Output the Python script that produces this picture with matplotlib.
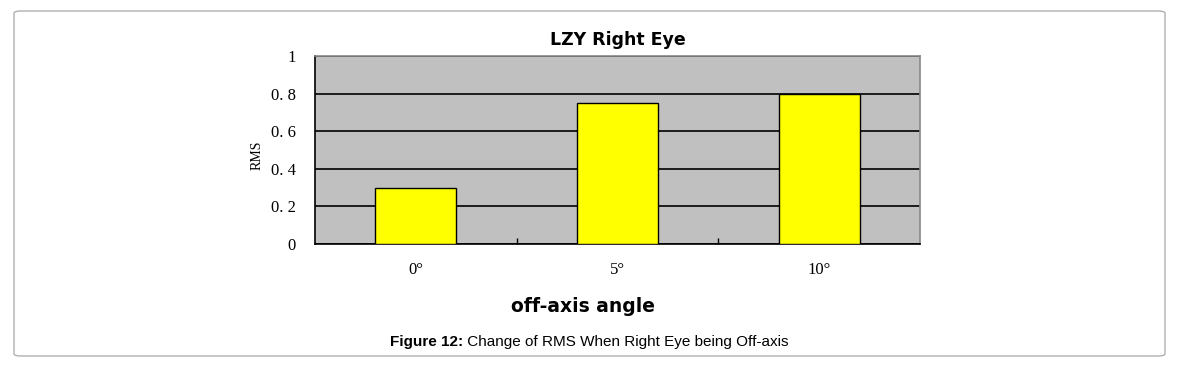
import matplotlib.pyplot as plt
from matplotlib.patches import FancyBboxPatch

categories = ['0°', '5°', '10°']
rms = [0.30, 0.75, 0.80]
yticks = [0, 0.2, 0.4, 0.6, 0.8, 1]
ytick_labels = ['0', '0. 2', '0. 4', '0. 6', '0. 8', '1']

fig = plt.figure(figsize=(11.85, 3.69), dpi=100)

# outer rounded frame
frame = FancyBboxPatch((14 / 1185, 13 / 369), 1151 / 1185, 345 / 369,
                       boxstyle='round,pad=0,rounding_size=0.006',
                       transform=fig.transFigure, facecolor='white',
                       edgecolor='#b0b0b0', linewidth=1.0, zorder=-10)
fig.add_artist(frame)

ax = fig.add_axes([315 / 1185, 125 / 369, 605 / 1185, 188 / 369])
ax.set_facecolor('#c0c0c0')

x = range(len(categories))
ax.bar(x, rms, width=0.4, color='#ffff00', edgecolor='black', linewidth=1, zorder=3)

ax.set_xlim(-0.5, 2.5)
ax.set_ylim(0, 1)
ax.set_yticks(yticks)
ax.set_yticklabels(ytick_labels, family='Liberation Serif', fontsize=12)
ax.yaxis.grid(True, color='black', linewidth=1.2, zorder=1)
ax.set_axisbelow(True)

# category boundary ticks on x axis
ax.set_xticks([0.5, 1.5])
ax.set_xticklabels([])
ax.tick_params(axis='x', direction='in', length=4, width=1)
ax.tick_params(axis='y', length=0, pad=14)
for i, lab in enumerate(categories):
    ax.text(i, -0.14, lab, ha='center', va='center', family='Liberation Serif',
            fontsize=12, transform=ax.get_xaxis_transform())

for s in ['top', 'right']:
    ax.spines[s].set_color('#888888')
    ax.spines[s].set_linewidth(1.2)
ax.spines['left'].set_linewidth(1.2)
ax.spines['bottom'].set_linewidth(1.2)

ax.set_title('LZY Right Eye', fontsize=12.5, fontweight='bold', pad=8)
ax.text(268 / 605, -0.33, 'off-axis angle', ha='center', va='center', fontsize=13.5,
        fontweight='bold', transform=ax.transAxes)
ax.text(-0.095, 0.47, 'RMS', rotation=90, ha='center', va='center',
        family='Liberation Serif', fontsize=10, transform=ax.transAxes)

# caption
cy = 1 - 342 / 369
t1 = fig.text(390 / 1185, cy, 'Figure 12:', ha='left', va='center',
              family='Liberation Sans', fontsize=11, fontweight='bold')
fig.canvas.draw()
bb = t1.get_window_extent()
fig.text(bb.x1 / fig.bbox.width, cy, ' Change of RMS When Right Eye being Off-axis',
         ha='left', va='center', family='Liberation Sans', fontsize=11)

fig.savefig('out.png', dpi=100)
